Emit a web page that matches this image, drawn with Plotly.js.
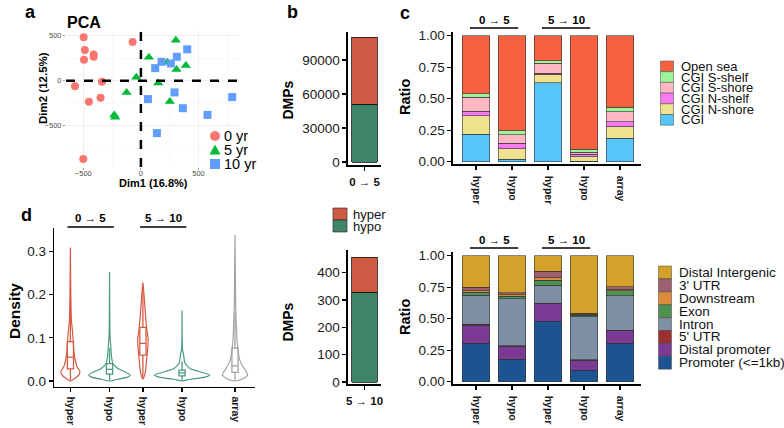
<!DOCTYPE html>
<html><head><meta charset="utf-8">
<script src="https://cdn.plot.ly/plotly-3.0.1.min.js"></script>
<style>html,body{margin:0;padding:0;background:#fff}#chart{width:784px;height:428px}</style>
</head><body><div id="chart"></div>
<script>
// ================= DATA =================
// a: PCA
const pcaGroups = ['0 yr', '5 yr', '10 yr'];
const pca0x  = [-497, -72, -486, -410, -410, -494, -338, -572, -350, -451, -500];
const pca0y  = [480, 427, 338, 290, 264, 230, -11, -63, -190, -234, -866];
const pca5x  = [303, 69, 231, 390, 309, -40, 150, -124, 251, -231, -223];
const pca5y  = [446, 260, 204, 167, 123, 37, -26, -130, -230, -379, -405];
const pca10x = [402, 312, 179, 260, 124, 292, 61, 364, 792, 578, 139];
const pca10y = [346, 264, 208, 190, 138, -130, -204, -305, -182, -379, -580];
const pcaXTitle = 'Dim1 (16.8%)';
const pcaYTitle = 'Dim2 (12.5%)';

// b: DMP counts
const dmpPeriods = ['0 → 5', '5 → 10'];
const dmpHyper = [59000, 128];
const dmpHypo  = [51000, 328];

// c: ratio bars
const barLabels = ['hyper', 'hypo', 'hyper', 'hypo', 'array'];
const barGroups = ['0 → 5', '0 → 5', '5 → 10', '5 → 10', 'array'];

const regionNames = ['CGI', 'CGI N-shore', 'CGI N-shelf', 'CGI S-shore', 'CGI S-shelf', 'Open sea'];
const regCGI     = [0.220, 0.020, 0.627, 0.005, 0.185];
const regNShore  = [0.145, 0.085, 0.066, 0.035, 0.093];
const regNShelf  = [0.035, 0.040, 0.008, 0.018, 0.039];
const regSShore  = [0.110, 0.070, 0.080, 0.016, 0.080];
const regSShelf  = [0.030, 0.030, 0.019, 0.026, 0.034];
const regOpenSea = [0.460, 0.755, 0.200, 0.900, 0.569];

const featureNames = ['Promoter (<=1kb)', 'Distal promoter', "5' UTR", 'Intron', 'Exon', 'Downstream', "3' UTR", 'Distal Intergenic'];
const featPromoter   = [0.305, 0.177, 0.480, 0.090, 0.304];
const featDistalProm = [0.145, 0.106, 0.137, 0.082, 0.101];
const feat5UTR       = [0.005, 0.004, 0.004, 0.003, 0.005];
const featIntron     = [0.230, 0.370, 0.144, 0.341, 0.273];
const featExon       = [0.025, 0.022, 0.042, 0.010, 0.039];
const featDownstream = [0.012, 0.010, 0.018, 0.009, 0.013];
const feat3UTR       = [0.028, 0.017, 0.053, 0.007, 0.019];
const featDistalInt  = [0.250, 0.294, 0.122, 0.458, 0.246];

// d: violins (density profile, relative widths) + box stats
const vioNames  = ['hyper', 'hypo', 'hyper', 'hypo', 'array'];
const vioGroups = ['0 → 5', '0 → 5', '5 → 10', '5 → 10', 'array'];
const vHyper05Levels  = [0, 0.007, 0.014, 0.022, 0.033, 0.049, 0.072, 0.095, 0.118, 0.141, 0.2, 0.309];
const vHyper05Dens    = [0, 0.18, 0.31, 0.34, 0.24, 0.17, 0.12, 0.10, 0.07, 0.036, 0.015, 0];
const vHypo05Levels   = [0, 0.004, 0.009, 0.014, 0.022, 0.029, 0.041, 0.056, 0.079, 0.103, 0.252];
const vHypo05Dens     = [0, 0.29, 0.65, 0.75, 0.54, 0.30, 0.12, 0.072, 0.047, 0.018, 0];
const vHyper510Levels = [0.004, 0.01, 0.025, 0.049, 0.072, 0.095, 0.118, 0.141, 0.172, 0.203, 0.228];
const vHyper510Dens   = [0, 0.047, 0.097, 0.134, 0.17, 0.19, 0.144, 0.108, 0.072, 0.036, 0];
const vHypo510Levels  = [0, 0.004, 0.009, 0.014, 0.022, 0.029, 0.041, 0.052, 0.064, 0.072, 0.163];
const vHypo510Dens    = [0, 0.29, 0.83, 1.0, 0.60, 0.29, 0.108, 0.072, 0.047, 0.018, 0];
const vArrayLevels    = [0, 0.005, 0.01, 0.014, 0.022, 0.033, 0.049, 0.072, 0.095, 0.133, 0.172, 0.25, 0.338];
const vArrayDens      = [0, 0.29, 0.40, 0.46, 0.40, 0.29, 0.17, 0.108, 0.072, 0.047, 0.025, 0.014, 0];
const boxQ1     = [0.028, 0.016, 0.060, 0.012, 0.020];
const boxMedian = [0.055, 0.027, 0.087, 0.019, 0.035];
const boxQ3     = [0.091, 0.040, 0.124, 0.025, 0.076];
const boxLower  = [0.002, 0.001, 0.006, 0.001, 0.001];
const boxUpper  = [0.185, 0.076, 0.220, 0.045, 0.160];

// ================= STYLE / LAYOUT =================
const W = 784, H = 428;
const FONT = 'Liberation Sans, Arial, Helvetica, sans-serif';
const px = v => v / W;
const py = v => 1 - v / H;

const pcaColors = ['#F8766D', '#00BA38', '#619CFF'];
const pcaSymbols = ['circle', 'triangle-up', 'square'];
const pcaSizes = [8, 9, 8];
const dirColors = {hyper: '#CF5B45', hypo: '#3F8668', array: '#A0A0A0'};
const vioColors = {hyper: '#D65A40', hypo: '#4A9A7E', array: '#A3A3A3'};
const regionColors = ['#56C6F9', '#EFE28E', '#F47CF0', '#FFB8C3', '#9DF59B', '#F6623F'];
const featureColors = ['#1D5391', '#7B3B95', '#9B2F2F', '#7F8FA3', '#4F9150', '#DD8A3E', '#9C6070', '#D4A12A'];

const traces = [];

// ---- a: PCA scatter
const pcaX = [pca0x, pca5x, pca10x], pcaY = [pca0y, pca5y, pca10y];
pcaGroups.forEach((g, i) => {
  traces.push({type: 'scatter', mode: 'markers', x: pcaX[i], y: pcaY[i], name: g,
    xaxis: 'x', yaxis: 'y', showlegend: false,
    marker: {color: pcaColors[i], symbol: pcaSymbols[i], size: pcaSizes[i], line: {width: 0}}});
});

// ---- b: DMP bars
const bAxes = [['x2', 'y2'], ['x3', 'y3']];
dmpPeriods.forEach((p, i) => {
  traces.push({type: 'bar', x: [p], y: [dmpHypo[i]], xaxis: bAxes[i][0], yaxis: bAxes[i][1],
    width: 0.76, showlegend: false, marker: {color: dirColors.hypo, line: {color: '#111', width: 0.8}}});
  traces.push({type: 'bar', x: [p], y: [dmpHyper[i]], xaxis: bAxes[i][0], yaxis: bAxes[i][1],
    width: 0.76, showlegend: false, marker: {color: dirColors.hyper, line: {color: '#111', width: 0.8}}});
});

// ---- c: stacked ratio bars
const barIdx = barLabels.map((_, i) => i);
const regionSeries = [regCGI, regNShore, regNShelf, regSShore, regSShelf, regOpenSea];
regionSeries.forEach((vals, k) => {
  traces.push({type: 'bar', x: barIdx, y: vals, xaxis: 'x4', yaxis: 'y4', width: 0.76, name: regionNames[k],
    showlegend: false, marker: {color: regionColors[k], line: {color: '#333', width: 0.6}}});
});
const featureSeries = [featPromoter, featDistalProm, feat5UTR, featIntron, featExon, featDownstream, feat3UTR, featDistalInt];
featureSeries.forEach((vals, k) => {
  traces.push({type: 'bar', x: barIdx, y: vals, xaxis: 'x5', yaxis: 'y5', width: 0.76, name: featureNames[k],
    showlegend: false, marker: {color: featureColors[k], line: {color: '#333', width: 0.6}}});
});

// ---- d: violins + boxes
const vioGroupList = [...new Set(vioGroups)];
const dodge = {hyper: -0.27, hypo: 0.27, array: 0};
const vioPos = vioNames.map((n, i) => vioGroupList.indexOf(vioGroups[i]) + dodge[n]);
const vioLevels = [vHyper05Levels, vHypo05Levels, vHyper510Levels, vHypo510Levels, vArrayLevels];
const vioDens = [vHyper05Dens, vHypo05Dens, vHyper510Dens, vHypo510Dens, vArrayDens];
const maxHalf = 0.382;
vioNames.forEach((n, i) => {
  const c = vioPos[i], L = vioLevels[i], D = vioDens[i];
  const xs = L.map((l, k) => c + D[k] * maxHalf).concat(L.slice().reverse().map((l, k) => c - D[D.length - 1 - k] * maxHalf));
  const ys = L.concat(L.slice().reverse());
  traces.push({type: 'scatter', mode: 'lines', x: xs, y: ys, xaxis: 'x6', yaxis: 'y6', showlegend: false,
    line: {color: vioColors[n], width: 1.2, shape: 'spline', smoothing: 0.6}});
  traces.push({type: 'box', x: [c], q1: [boxQ1[i]], median: [boxMedian[i]], q3: [boxQ3[i]],
    lowerfence: [boxLower[i]], upperfence: [boxUpper[i]], xaxis: 'x6', yaxis: 'y6', width: 0.085,
    whiskerwidth: 0, boxpoints: false, showlegend: false, fillcolor: 'rgba(255,255,255,1)',
    line: {color: vioColors[n], width: 1.3}});
});

// ---- axes
const tickF = {family: FONT, size: 13.5, color: '#1a1a1a'};
const xTickF = {family: FONT, size: 10.5, color: '#1a1a1a', weight: 'bold'};
const classicAxis = {showline: true, linecolor: '#000', linewidth: 1.6, ticks: 'outside', ticklen: 4,
  tickwidth: 1.3, tickcolor: '#000', showgrid: false, zeroline: false, fixedrange: true};

const layout = {
  width: W, height: H, autosize: false, margin: {l: 0, r: 0, t: 0, b: 0},
  paper_bgcolor: '#fff', plot_bgcolor: 'rgba(0,0,0,0)', barmode: 'stack', showlegend: false,
  font: {family: FONT, color: '#111'}, hovermode: false,
  xaxis: {domain: [px(66), px(240)], range: [-650, 860], anchor: 'y', tickvals: [-500, 0, 500],
    tickfont: {family: FONT, size: 7.5, color: '#4d4d4d'}, ticks: 'outside', ticklen: 2, tickwidth: 0.6, tickcolor: '#555',
    ticklabelstandoff: -3,
    showgrid: true, gridcolor: '#ebebeb', gridwidth: 0.8, zeroline: false, showline: false,
    minor: {tickvals: [-250, 250, 750], showgrid: true, gridcolor: '#f5f5f5', gridwidth: 0.6}},
  yaxis: {domain: [py(167), py(30)], range: [-955, 560], anchor: 'x', tickvals: [-500, 0, 500],
    tickfont: {family: FONT, size: 7.5, color: '#4d4d4d'}, ticks: 'outside', ticklen: 2, tickwidth: 0.6, tickcolor: '#555',
    showgrid: true, gridcolor: '#ebebeb', gridwidth: 0.8, zeroline: false, showline: false,
    minor: {tickvals: [-750, -250, 250], showgrid: true, gridcolor: '#f5f5f5', gridwidth: 0.6}},

  xaxis2: Object.assign({}, classicAxis, {domain: [px(348), px(381)], anchor: 'y2', type: 'category',
    range: [-0.5, 0.5], ticklabelstandoff: 2, tickfont: {family: FONT, size: 11.5, color: '#111', weight: 'bold'}}),
  yaxis2: Object.assign({}, classicAxis, {domain: [py(165), py(32)], anchor: 'x2', range: [-2650, 114700],
    tickvals: [0, 30000, 60000, 90000], tickformat: 'd', tickfont: tickF}),
  xaxis3: Object.assign({}, classicAxis, {domain: [px(348), px(381)], anchor: 'y3', type: 'category',
    range: [-0.5, 0.5], ticklabelstandoff: 2, tickfont: {family: FONT, size: 11.5, color: '#111', weight: 'bold'}}),
  yaxis3: Object.assign({}, classicAxis, {domain: [py(384), py(250)], anchor: 'x3', range: [-7.3, 483],
    tickvals: [0, 100, 200, 300, 400], tickformat: 'd', tickfont: tickF}),

  xaxis4: Object.assign({}, classicAxis, {domain: [px(453), px(641)], anchor: 'y4', range: [-0.64, 4.58],
    tickvals: barIdx, ticktext: barLabels, tickangle: 90, ticklabelstandoff: 4, tickfont: xTickF}),
  yaxis4: Object.assign({}, classicAxis, {domain: [py(164), py(31.7)], anchor: 'x4', range: [-0.018, 1.032],
    tickvals: [0, 0.25, 0.5, 0.75, 1], tickformat: '.2f', tickfont: tickF}),
  xaxis5: Object.assign({}, classicAxis, {domain: [px(453), px(641)], anchor: 'y5', range: [-0.64, 4.58],
    tickvals: barIdx, ticktext: barLabels, tickangle: 90, ticklabelstandoff: 4, tickfont: xTickF}),
  yaxis5: Object.assign({}, classicAxis, {domain: [py(384), py(251.7)], anchor: 'x5', range: [-0.018, 1.032],
    tickvals: [0, 0.25, 0.5, 0.75, 1], tickformat: '.2f', tickfont: tickF}),

  xaxis6: Object.assign({}, classicAxis, {domain: [px(54.3), px(255)], anchor: 'y6', range: [-0.492, 2.276],
    tickvals: vioPos, ticktext: vioNames, tickangle: 90, ticklabelstandoff: 2, tickfont: xTickF}),
  yaxis6: Object.assign({}, classicAxis, {domain: [py(386.7), py(228)], anchor: 'x6', range: [-0.0132, 0.354],
    tickvals: [0, 0.1, 0.2, 0.3], tickformat: '.1f', tickfont: tickF}),
  shapes: [], annotations: []
};

const ann = (text, x, y, o) => layout.annotations.push(Object.assign({text, xref: 'paper', yref: 'paper',
  x: px(x), y: py(y), xanchor: 'center', yanchor: 'middle', showarrow: false,
  font: {family: FONT, size: 13.5, color: '#111'}}, o || {}));

// panel letters
[['a', 30, 12], ['b', 292, 12], ['c', 405, 13], ['d', 27, 215]].forEach(([t, x, y]) =>
  ann(t, x, y, {font: {family: FONT, size: 18, color: '#000', weight: 'bold'}}));

// PCA title, axis titles, dashed zero lines
ann('PCA', 83.5, 22.5, {font: {family: FONT, size: 16, color: '#000', weight: 'bold'}});
ann(pcaXTitle, 153, 183, {font: {family: FONT, size: 11, color: '#000', weight: 'bold'}});
ann(pcaYTitle, 43, 88, {textangle: -90, font: {family: FONT, size: 11.5, color: '#000', weight: 'bold'}});
layout.shapes.push({type: 'line', xref: 'x', yref: 'y domain', x0: 0, x1: 0, y0: 0, y1: 1,
  line: {color: '#000', width: 2.5, dash: 'dash'}});
layout.shapes.push({type: 'line', xref: 'x domain', yref: 'y', x0: 0, x1: 1, y0: 0, y1: 0,
  line: {color: '#000', width: 2.5, dash: 'dash'}});

// PCA legend
pcaGroups.forEach((g, i) => {
  const cx = 215, cy = 136 + i * 14, r = 5;
  if (pcaSymbols[i] === 'circle') {
    layout.shapes.push({type: 'circle', xref: 'paper', yref: 'paper', x0: px(cx - r), x1: px(cx + r),
      y0: py(cy + r), y1: py(cy - r), fillcolor: pcaColors[i], line: {width: 0}});
  } else if (pcaSymbols[i] === 'square') {
    layout.shapes.push({type: 'rect', xref: 'paper', yref: 'paper', x0: px(cx - r), x1: px(cx + r),
      y0: py(cy + r), y1: py(cy - r), fillcolor: pcaColors[i], line: {width: 0}});
  } else {
    layout.shapes.push({type: 'path', xref: 'paper', yref: 'paper',
      path: `M ${px(cx - r - 0.5)},${py(cy + r - 0.5)} L ${px(cx + r + 0.5)},${py(cy + r - 0.5)} L ${px(cx)},${py(cy - r - 0.5)} Z`,
      fillcolor: pcaColors[i], line: {width: 0}});
  }
  ann(g, 222, cy, {xanchor: 'left', font: {family: FONT, size: 14.5, color: '#000'}});
});

// b: titles + legend
ann('DMPs', 287.5, 100, {textangle: -90, font: {family: FONT, size: 14, color: '#000', weight: 'bold'}});
ann('DMPs', 287.5, 322, {textangle: -90, font: {family: FONT, size: 14, color: '#000', weight: 'bold'}});
['hyper', 'hypo'].forEach((d, i) => {
  const top = 208 + i * 12;
  layout.shapes.push({type: 'rect', xref: 'paper', yref: 'paper', x0: px(333), x1: px(347), y0: py(top + 12), y1: py(top),
    fillcolor: dirColors[d], line: {color: '#222', width: 0.6}});
  ann(d, 351, top + 6, {xanchor: 'left', font: {family: FONT, size: 13, color: '#111'}});
});

// c/d: axis titles
ann('Ratio', 405, 97, {textangle: -90, font: {family: FONT, size: 14.5, color: '#000', weight: 'bold'}});
ann('Ratio', 405, 317, {textangle: -90, font: {family: FONT, size: 14.5, color: '#000', weight: 'bold'}});
ann('Density', 14, 311, {textangle: -90, font: {family: FONT, size: 15.5, color: '#000', weight: 'bold'}});

function brackets(xref, positions, groups, lineY, textY, padL, padR) {
  [...new Set(groups)].filter(g => g !== 'array').forEach(g => {
    const idx = groups.map((v, i) => v === g ? i : -1).filter(i => i >= 0);
    const x0 = positions[idx[0]] - padL, x1 = positions[idx[idx.length - 1]] + padR;
    layout.shapes.push({type: 'line', xref, yref: 'paper', x0, x1, y0: py(lineY), y1: py(lineY),
      line: {color: '#000', width: 1.6}});
    layout.annotations.push({text: g, xref, yref: 'paper', x: (x0 + x1) / 2, y: py(textY), showarrow: false,
      xanchor: 'center', yanchor: 'middle', font: {family: FONT, size: 11.5, color: '#000', weight: 'bold'}});
  });
}
brackets('x4', barIdx, barGroups, 28, 19.5, 0.17, 0.17);
brackets('x5', barIdx, barGroups, 248, 239.5, 0.17, 0.17);
brackets('x6', vioPos, vioGroups, 227, 218, 0.04, 0.06);

function legendBlock(names, colors, x0, top, rowH, fs) {
  const n = names.length;
  for (let j = 0; j < n; j++) {
    const k = n - 1 - j; // top row = last stacked series
    const y = top + j * rowH;
    layout.shapes.push({type: 'rect', xref: 'paper', yref: 'paper', x0: px(x0), x1: px(x0 + 13),
      y0: py(y + rowH), y1: py(y), fillcolor: colors[k], line: {color: '#444', width: 0.5}});
    ann(names[k], x0 + 18, y + rowH / 2, {xanchor: 'left', font: {family: FONT, size: fs, color: '#111'}});
  }
}
legendBlock(regionNames, regionColors, 660.5, 61, 10.7, 13);
legendBlock(featureNames, featureColors, 658.5, 266, 12.9, 13.5);

Plotly.newPlot('chart', traces, layout, {staticPlot: true, displayModeBar: false});
</script></body></html>
